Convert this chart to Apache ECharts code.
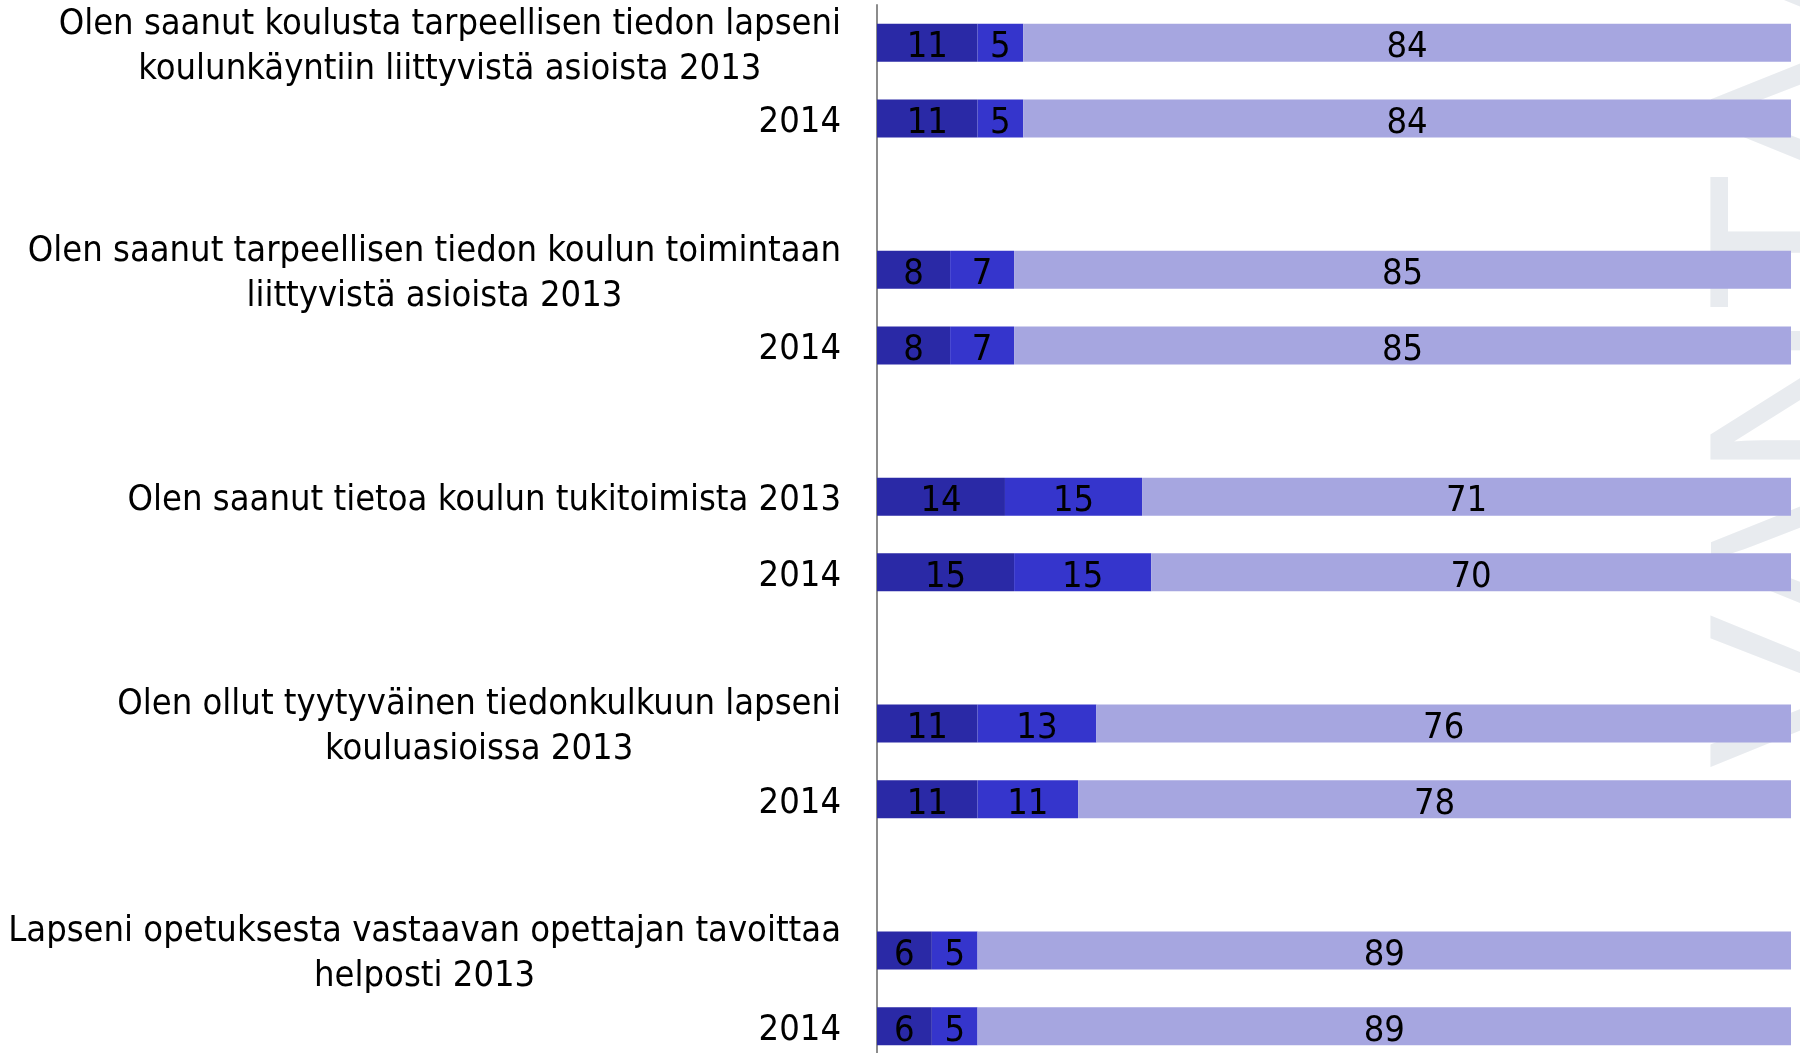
<!DOCTYPE html>
<html>
<head>
<meta charset="utf-8">
<script src="https://cdn.jsdelivr.net/npm/echarts@6/dist/echarts.min.js"></script>
<style>
  html, body { margin: 0; padding: 0; background: #fff; }
  #chart { width: 1800px; height: 1053px; }
</style>
</head>
<body>
<div id="chart"></div>
<script>
// questions, each asked in two years
const questions = [
  "Olen saanut koulusta tarpeellisen tiedon lapseni\nkoulunkäyntiin liittyvistä asioista",
  "Olen saanut tarpeellisen tiedon koulun toimintaan\nliittyvistä asioista",
  "Olen saanut tietoa koulun tukitoimista",
  "Olen ollut tyytyväinen tiedonkulkuun lapseni\nkouluasioissa",
  "Lapseni opetuksesta vastaavan opettajan tavoittaa\nhelposti"
];
const years = ["2013", "2014"];
// order: q1 2013, q1 2014, q2 2013, ...
const disagree = [11, 11, 8, 8, 14, 15, 11, 11, 6, 6];
const neutral = [5, 5, 7, 7, 15, 15, 13, 11, 5, 5];
const agree = [84, 84, 85, 85, 71, 70, 76, 78, 89, 89];

const font = '"DejaVu Sans Condensed", "Liberation Sans", sans-serif';
const fontSize = 36;
const colors = ["#2a29a6", "#3535cc", "#a6a6e0"];

// build category slots with an empty slot between question groups
let categories = [];
let slot = []; // index into the value arrays, or -1 for gap
questions.forEach((q, i) => {
  if (i > 0) { categories.push(""); slot.push(-1); }
  categories.push(q + " " + years[0]); slot.push(i * 2);
  categories.push(years[1]); slot.push(i * 2 + 1);
});

function toSeries(arr) {
  return slot.map(s => s < 0 ? "-" : arr[s]);
}

function wrapLabel(val) {
  if (!val) return "";
  return val.split("\n").map(l => "{c|" + l + "}").join("\n");
}

let barLabel = {
  show: true,
  position: "inside",
  offset: [0, 5],
  color: "#000",
  fontFamily: font,
  fontSize: fontSize
};

function makeBar(name, data, i) {
  return {
    name: name,
    type: "bar",
    stack: "all",
    barWidth: 38,
    data: toSeries(data),
    itemStyle: { color: colors[i] },
    label: barLabel,
    z: 3
  };
}

const chart = echarts.init(document.getElementById("chart"));
chart.setOption({
  animation: false,
  grid: { left: 877, right: 9, top: 5, height: 1059, containLabel: false, outerBoundsMode: "none" },
  xAxis: {
    type: "value", min: 0, max: 100,
    show: false
  },
  yAxis: {
    type: "category",
    inverse: true,
    data: categories,
    axisTick: { show: false },
    axisLine: { show: true, lineStyle: { color: "#8c8c8c", width: 2 } },
    axisLabel: {
      interval: 0,
      margin: 36,
      padding: [8, 0, 0, 0],
      color: "#000",
      fontFamily: font,
      fontSize: fontSize,
      lineHeight: 45,
      formatter: wrapLabel,
      rich: {
        c: { align: "center", fontFamily: font, fontSize: fontSize, lineHeight: 45, color: "#000" }
      }
    }
  },
  graphic: [{
    type: "text",
    x: 1691,
    y: 768,
    rotation: Math.PI / 2,
    z: -10,
    silent: true,
    style: {
      text: "VANTAA",
      font: "230px 'Liberation Sans', sans-serif",
      fill: "#e8ebef",
      textAlign: "left",
      textVerticalAlign: "top"
    }
  }],
  series: [
    makeBar("Eri mieltä", disagree, 0),
    makeBar("En osaa sanoa", neutral, 1),
    makeBar("Samaa mieltä", agree, 2)
  ]
});
</script>
</body>
</html>
